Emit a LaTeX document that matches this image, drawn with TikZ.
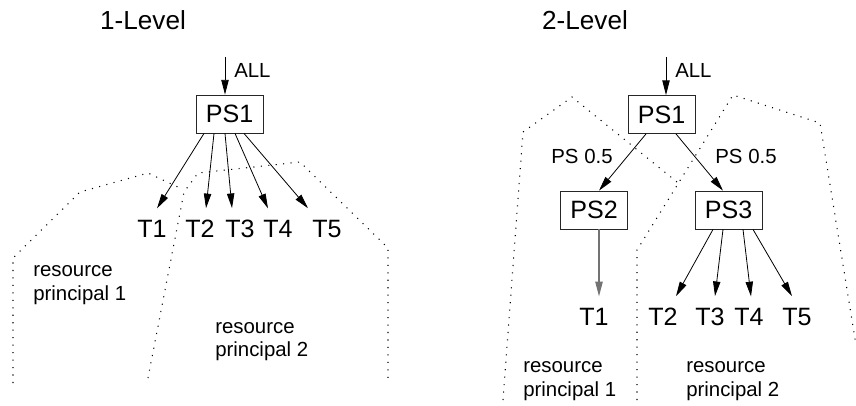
\documentclass[tikz,border=0pt]{standalone}
\usepackage{fontspec}
\setmainfont{Liberation Sans}
\usetikzlibrary{arrows.meta,calc}

\tikzset{
  psbox/.style={draw=black!85, line width=0.6pt, minimum width=50.25pt, minimum height=28.5pt, inner sep=0pt, font=\fontsize{18.8}{22}\selectfont},
  task/.style={inner sep=0pt, outer ysep=9pt, font=\fontsize{18.8}{22}\selectfont},
  small/.style={inner sep=0pt, font=\fontsize{15.3}{17.8}\selectfont},
  title/.style={inner sep=0pt, font=\fontsize{19.6}{22}\selectfont},
  arr/.style={line width=0.6pt, -{Triangle[length=11pt,width=5.5pt]}},
  region/.style={line width=0.8pt, dash pattern=on 0.8pt off 4.8pt},
}

\begin{document}
\begin{tikzpicture}[x=0.75pt,y=0.75pt,yscale=-1]
\useasboundingbox (0,0) rectangle (856,405);

%% ---- 1-Level ----
% Text Node
\node [title] (l1title) at (143,20) {1-Level};
% Shape: boxes and tasks
\node [psbox] (l1ps1) at (229.5,114) {PS1};
\node [task] (l1t1) at (152,229) {T1};
\node [task] (l1t2) at (200,229) {T2};
\node [task] (l1t3) at (240,229) {T3};
\node [task] (l1t4) at (278,229) {T4};
\node [task] (l1t5) at (327,229) {T5};
\coordinate (l1in) at (225,57);
% Text Node
\node [small, anchor=west] (l1all) at (234,70) {ALL};
\node [small, anchor=west, align=left] (l1rp1) at (33,285) {resource\\principal 1};
\node [small, anchor=west, align=left] (l1rp2) at (215,341.5) {resource\\principal 2};

%Straight Lines
\draw [arr] (l1in) -- (l1in |- l1ps1.north);
\draw [arr] ($(l1ps1.south)+(-25.5,0)$) -- ($(l1t1.north)+(5,0)$);
\draw [arr] ($(l1ps1.south)+(-15.5,0)$) -- ($(l1t2.north)+(6,0)$);
\draw [arr] ($(l1ps1.south)+(-4.5,0)$) -- ($(l1t3.north)+(-8,0)$);
\draw [arr] ($(l1ps1.south)+(5.5,0)$) -- ($(l1t4.north)+(-10,0)$);
\draw [arr] ($(l1ps1.south)+(14.5,0)$) -- ($(l1t5.north)+(-19,0)$);

%Dotted regions
\draw [region] (13,383) -- (13,258) -- (80,192) -- (148,173) -- (180,188);
\draw [region] (148,378) -- (184,192) -- (198,173) -- (300,162) -- (388,248) -- (388,378);

%% ---- 2-Level ----
% Text Node
\node [title] (l2title) at (585,20) {2-Level};
% Shape: boxes and tasks
\node [psbox] (l2ps1) at (661.5,114.5) {PS1};
\node [psbox] (l2ps2) at (594,210) {PS2};
\node [psbox] (l2ps3) at (728.5,210) {PS3};
\node [task] (l2t1) at (594,317) {T1};
\node [task] (l2t2) at (663,317) {T2};
\node [task] (l2t3) at (710,317) {T3};
\node [task] (l2t4) at (749,317) {T4};
\node [task] (l2t5) at (797,317) {T5};
\coordinate (l2in) at (666,57);
% Text Node
\node [small, anchor=west] (l2all) at (675,70) {ALL};
\node [small] (l2wa) at (582,156) {PS 0.5};
\node [small] (l2wb) at (746,156) {PS 0.5};
\node [small, anchor=west, align=left] (l2rp1) at (523,381) {resource\\principal 1};
\node [small, anchor=west, align=left] (l2rp2) at (686,381) {resource\\principal 2};

%Straight Lines
\draw [arr] (l2in) -- (l2in |- l2ps1.north);
\draw [arr] ($(l2ps1.south)+(-15.5,0)$) -- ($(l2ps2.north)+(5,0)$);
\draw [arr] ($(l2ps1.south)+(14.5,0)$) -- ($(l2ps3.north)+(-5.5,0)$);
\draw [arr, draw=black!55, line width=0.9pt] ($(l2ps2.south)+(5,0)$) -- ($(l2t1.north)+(5,0)$);
\draw [arr] ($(l2ps3.south)+(-15.5,0)$) -- ($(l2t2.north)+(13,0)$);
\draw [arr] ($(l2ps3.south)+(-5.5,0)$) -- ($(l2t3.north)+(5,0)$);
\draw [arr] ($(l2ps3.south)+(14.5,0)$) -- ($(l2t4.north)+(2,0)$);
\draw [arr] ($(l2ps3.south)+(24.5,0)$) -- ($(l2t5.north)+(-5,0)$);

%Dotted regions
\draw [region] (503,400) -- (523,132) -- (572,97) -- (677,182);
\draw [region] (637,400) -- (637,250) -- (733,95) -- (820,123) -- (856,345);

\end{tikzpicture}
\end{document}
